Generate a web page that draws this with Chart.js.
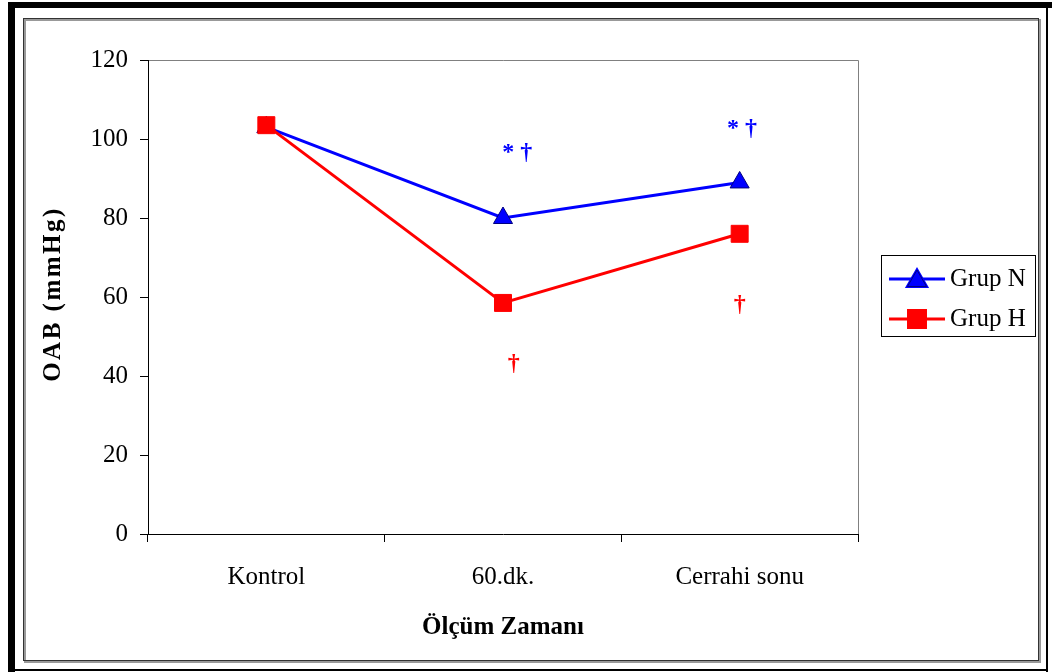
<!DOCTYPE html>
<html>
<head>
<meta charset="utf-8">
<script src="https://cdn.jsdelivr.net/npm/chart.js@4.4.1/dist/chart.umd.min.js"></script>
<style>
  html, body { margin: 0; padding: 0; background: #fff; }
  #wrap { width: 1052px; height: 672px; }
</style>
</head>
<body>
<div id="wrap"><canvas id="c" width="1052" height="672"></canvas></div>
<script>
// data
const categories = ['Kontrol', '60.dk.', 'Cerrahi sonu'];
const grupN = [103, 80, 89];
const grupH = [103.5, 58.5, 76];
const yTicks = [0, 20, 40, 60, 80, 100, 120];

// significance marks: x as category index, y in mmHg
const markText = ['* \u2020', '* \u2020', '\u2020', '\u2020'];
const markX = [1.06, 2.01, 1.045, 2.0];
const markY = [96.5, 102.5, 43, 58];
const markColor = ['#0000ff', '#0000ff', '#ff0000', '#ff0000'];

const serif = '"Liberation Serif", "Times New Roman", serif';

const framePlugin = {
    id: 'frame',
    beforeDraw(chart) {
        const ctx = chart.ctx;
        ctx.save();
        ctx.fillStyle = '#fff';
        ctx.fillRect(0, 0, chart.width, chart.height);
        // outer frame
        ctx.fillStyle = '#000';
        ctx.fillRect(8, 2, 1044, 6);
        ctx.fillRect(8, 2, 7, 670);
        ctx.fillRect(1046, 2, 2, 670);
        ctx.fillRect(8, 669, 1040, 2);
        // inner frame with shadow
        ctx.strokeStyle = '#999';
        ctx.lineWidth = 2;
        ctx.strokeRect(25, 20, 1015, 642);
        ctx.strokeStyle = '#333';
        ctx.lineWidth = 1;
        ctx.strokeRect(23.5, 18.5, 1015, 642);
        // plot area top/right
        const a = chart.chartArea;
        ctx.strokeStyle = '#808080';
        ctx.lineWidth = 1;
        ctx.beginPath();
        ctx.moveTo(a.left, a.top + 0.5);
        ctx.lineTo(a.right + 0.5, a.top + 0.5);
        ctx.lineTo(a.right + 0.5, a.bottom);
        ctx.stroke();
        ctx.restore();
    },
    afterDraw(chart) {
        const ctx = chart.ctx;
        const x = chart.scales.x, y = chart.scales.y;
        ctx.save();

        // axis titles
        ctx.fillStyle = '#000';
        ctx.textAlign = 'center';
        ctx.textBaseline = 'middle';
        ctx.font = 'bold 25px ' + serif;
        ctx.fillText('Ölçüm Zamanı', 503, 628);
        ctx.save();
        ctx.translate(54, 294);
        ctx.rotate(-Math.PI / 2);
        ctx.letterSpacing = '2.5px';
        ctx.fillText('OAB (mmHg)', 0, 0);
        ctx.restore();

        // significance marks
        ctx.font = 'bold 24px ' + serif;
        markText.forEach((t, i) => {
            ctx.fillStyle = markColor[i];
            ctx.fillText(t, x.getPixelForValue(markX[i]), y.getPixelForValue(markY[i]));
        });

        // legend
        ctx.strokeStyle = '#000';
        ctx.lineWidth = 1;
        ctx.strokeRect(881.5, 255.5, 154, 81);
        const rows = [279, 319];
        chart.data.datasets.forEach((ds, i) => {
            const ly = rows[i];
            ctx.strokeStyle = ds.borderColor;
            ctx.lineWidth = 3;
            ctx.beginPath();
            ctx.moveTo(889, ly);
            ctx.lineTo(945, ly);
            ctx.stroke();
            Chart.helpers.drawPoint(ctx, {
                pointStyle: ds.pointStyle,
                radius: ds.pointRadius,
                borderWidth: 1
            }, 917, ly + (ds.pointStyle === 'triangle' ? 2 : 0));
            ctx.fillStyle = ds.pointBackgroundColor;
            ctx.strokeStyle = ds.pointBorderColor;
            ctx.lineWidth = 1;
            ctx.fill();
            ctx.stroke();
            ctx.fillStyle = '#000';
            ctx.textAlign = 'left';
            ctx.font = '25px ' + serif;
            ctx.fillText(ds.label, 950, ly);
        });
        ctx.restore();
    }
};

new Chart(document.getElementById('c'), {
    type: 'line',
    data: {
        labels: categories,
        datasets: [
            {
                label: 'Grup N',
                data: grupN,
                borderColor: '#0000ff',
                borderWidth: 3,
                pointStyle: 'triangle',
                pointRadius: 11,
                pointBackgroundColor: '#0000ff',
                pointBorderColor: '#000080',
                pointBorderWidth: 1,
                tension: 0,
                order: 1
            },
            {
                label: 'Grup H',
                data: grupH,
                borderColor: '#ff0000',
                borderWidth: 3,
                pointStyle: 'rect',
                pointRadius: 12,
                pointBackgroundColor: '#ff0000',
                pointBorderColor: '#ff0000',
                pointBorderWidth: 1,
                tension: 0,
                order: 0
            }
        ]
    },
    options: {
        responsive: false,
        devicePixelRatio: 1,
        animation: false,
        layout: { padding: { left: 0, top: 60, right: 194, bottom: 0 } },
        plugins: {
            legend: { display: false },
            tooltip: { enabled: false }
        },
        scales: {
            x: {
                offset: true,
                afterFit(scale) { scale.height = 138; },
                grid: {
                    offset: true,
                    drawOnChartArea: false,
                    drawTicks: true,
                    tickLength: 8,
                    color: '#000'
                },
                border: { display: true, color: '#000', width: 1 },
                ticks: {
                    color: '#000',
                    padding: 20,
                    font: { family: serif, size: 25 }
                }
            },
            y: {
                min: 0,
                max: 120,
                afterFit(scale) { scale.width = 148; },
                afterBuildTicks(scale) { scale.ticks = yTicks.map(v => ({ value: v })); },
                grid: {
                    drawOnChartArea: false,
                    drawTicks: true,
                    tickLength: 8,
                    color: '#000'
                },
                border: { display: true, color: '#000', width: 1 },
                ticks: {
                    color: '#000',
                    padding: 12,
                    font: { family: serif, size: 25 }
                }
            }
        }
    },
    plugins: [framePlugin]
});
</script>
</body>
</html>
